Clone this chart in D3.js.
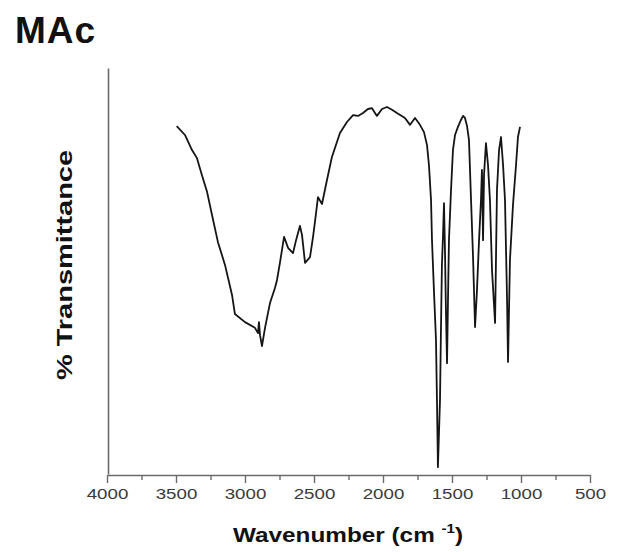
<!DOCTYPE html>
<html>
<head>
<meta charset="utf-8">
<script src="https://cdn.jsdelivr.net/npm/d3@7"></script>
<style>
  body { margin: 0; background: #fff; }
  svg { font-family: "Liberation Sans", Arial, sans-serif; }
</style>
</head>
<body>
<div id="chart"></div>
<script>
// IR spectrum values
const wavenumber = [
  3495, 3435, 3384, 3348, 3312, 3275, 3239, 3196, 3145, 3094,
  3073, 3000, 2928, 2906, 2899, 2891, 2877, 2855, 2819, 2783,
  2768, 2746, 2717, 2688, 2652, 2630, 2602, 2587, 2565, 2529,
  2507, 2493, 2471, 2442, 2406, 2370, 2312, 2261, 2217, 2181,
  2145, 2109, 2080, 2044, 2007, 1971, 1935, 1899, 1841, 1804,
  1768, 1732, 1703, 1681, 1667, 1652, 1645, 1631, 1616, 1609,
  1602, 1587, 1580, 1573, 1565, 1558, 1551, 1544, 1536, 1529,
  1522, 1507, 1493, 1478, 1457, 1435, 1420, 1406, 1391, 1377,
  1362, 1348, 1333, 1319, 1304, 1290, 1283, 1275, 1268, 1254,
  1239, 1225, 1210, 1188, 1174, 1159, 1145, 1130, 1116, 1101,
  1094, 1080, 1058, 1036, 1022, 1007
];
const transmittance = [
  85.7, 83.5, 79.8, 77.8, 73.6, 69.5, 63.8, 57.1, 51.5, 44.1,
  39.4, 37.4, 36.0, 34.7, 37.4, 34.2, 31.5, 36.0, 42.1, 45.8,
  47.8, 52.2, 58.4, 55.7, 54.4, 57.6, 61.1, 58.9, 52.0, 53.4,
  58.4, 62.1, 68.2, 66.5, 72.4, 78.1, 84.0, 86.7, 88.4, 88.2,
  88.9, 89.9, 90.1, 88.2, 89.9, 90.4, 89.7, 88.9, 87.7, 86.0,
  87.7, 86.0, 84.2, 81.0, 76.1, 67.5, 57.6, 45.3, 33.0, 18.2,
  1.7, 18.2, 35.5, 51.5, 58.9, 66.7, 55.2, 40.4, 27.3, 42.9,
  57.6, 70.0, 79.8, 83.5, 85.5, 87.2, 88.2, 87.7, 85.7, 82.3,
  67.5, 53.9, 36.2, 45.3, 57.6, 67.5, 74.9, 57.6, 73.6, 81.5,
  76.1, 67.5, 50.2, 37.2, 70.0, 79.8, 83.0, 76.1, 67.5, 42.9,
  27.6, 52.7, 66.3, 76.1, 83.0, 85.5
];
const majorTicks = [4000, 3500, 3000, 2500, 2000, 1500, 1000, 500];
const minorTicks = [3750, 3250, 2750, 2250, 1750, 1250, 750];

const chartTitle = "MAc";
const xTitle = "Wavenumber (cm";
const xTitleSup = "-1";
const yTitle = "% Transmittance";

const width = 624, height = 552;
const margin = { top: 68, right: 34, bottom: 78, left: 107 };

const svg = d3.select("#chart").append("svg")
    .attr("width", width)
    .attr("height", height);

const x = d3.scaleLinear()
    .domain([4000, 500])
    .range([margin.left, width - margin.right]);

const y = d3.scaleLinear()
    .domain([0, 100])
    .range([height - margin.bottom, margin.top]);

const axisColor = "#6b6b6b";
const xAxisY = height - margin.bottom + 1;

// minor ticks
svg.append("g")
    .attr("transform", `translate(0,${xAxisY})`)
    .call(d3.axisBottom(x).tickValues(minorTicks).tickSize(5).tickFormat("").tickSizeOuter(0))
    .call(g => g.select(".domain").remove())
    .call(g => g.selectAll("line").attr("stroke", axisColor).attr("stroke-width", 1.4));

// major ticks + labels
const xAxis = svg.append("g")
    .attr("transform", `translate(0,${xAxisY})`)
    .call(d3.axisBottom(x).tickValues(majorTicks).tickSize(8).tickSizeOuter(0).tickFormat(d3.format("d")));

xAxis.select(".domain").attr("stroke", axisColor).attr("stroke-width", 1.6);
xAxis.selectAll(".tick line").attr("stroke", axisColor).attr("stroke-width", 1.4);
xAxis.selectAll(".tick text")
    .attr("fill", "#3a3a3a")
    .attr("font-size", 15)
    .attr("y", 24)
    .attr("dy", 0)
    .each(function (d) {
        const t = d3.select(this);
        const n = String(d).length;
        t.attr("textLength", n * 10.4).attr("lengthAdjust", "spacingAndGlyphs");
    });

// y axis line (no ticks)
svg.append("g")
    .attr("transform", `translate(${margin.left + 1},0)`)
    .call(d3.axisLeft(y).tickValues([]).tickSizeOuter(0))
    .call(g => g.select(".domain").attr("stroke", axisColor).attr("stroke-width", 1.6));

// spectrum
const points = wavenumber.map((w, i) => [w, transmittance[i]]);
const line = d3.line()
    .x(d => x(d[0]))
    .y(d => y(d[1]));

svg.append("path")
    .datum(points)
    .attr("fill", "none")
    .attr("stroke", "#151515")
    .attr("stroke-width", 1.8)
    .attr("stroke-linejoin", "round")
    .attr("d", line);

// title
svg.append("text")
    .attr("x", 15)
    .attr("y", 43)
    .attr("font-size", 37)
    .attr("font-weight", "bold")
    .attr("letter-spacing", 1)
    .attr("fill", "#111")
    .text(chartTitle);

// x axis title, stretched to match the width in the picture
const xt = svg.append("text")
    .attr("x", 233)
    .attr("y", 542)
    .attr("font-size", 21)
    .attr("font-weight", "bold")
    .attr("fill", "#111");
xt.append("tspan").text(xTitle + " ");
xt.append("tspan").attr("font-size", 13).attr("dy", -9).text(xTitleSup);
xt.append("tspan").attr("dy", 9).text(")");
xt.attr("textLength", 230).attr("lengthAdjust", "spacingAndGlyphs");

// y axis title
svg.append("text")
    .attr("transform", "translate(72,265) rotate(-90)")
    .attr("text-anchor", "middle")
    .attr("font-size", 22)
    .attr("font-weight", "bold")
    .attr("fill", "#111")
    .attr("textLength", 230)
    .attr("lengthAdjust", "spacingAndGlyphs")
    .text(yTitle);
</script>
</body>
</html>
